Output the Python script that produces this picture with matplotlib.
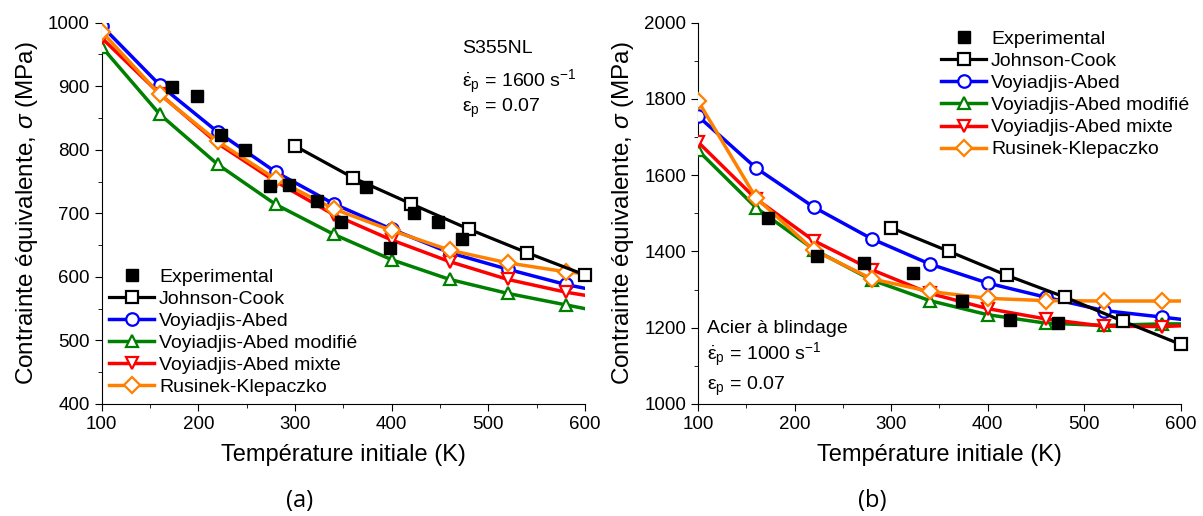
import matplotlib
matplotlib.use("Agg")
import matplotlib.pyplot as plt
import numpy as np

plt.rcParams['font.family'] = ['Liberation Sans', 'DejaVu Sans']
plt.rcParams['mathtext.fontset'] = 'custom'
plt.rcParams['mathtext.rm'] = 'Liberation Sans'
plt.rcParams['mathtext.it'] = 'Liberation Sans:italic'

# ---------------- (a) S355NL ----------------
a_exp_T = [173, 199, 223, 248, 274, 294, 323, 348, 373, 398, 423, 448, 473]
a_exp_S = [899, 885, 824, 800, 743, 745, 719, 686, 741, 645, 701, 686, 660]

a_jc_T = [300, 360, 420, 480, 540, 600]
a_jc_S = [806, 756, 715, 675, 638, 603]

a_mod_T = [100, 160, 220, 280, 340, 400, 460, 520, 580, 600]
a_va_S = [995, 902, 828, 765, 715, 675, 638, 612, 588, 582]
a_vam_S = [962, 856, 777, 714, 667, 627, 596, 574, 556, 550]
a_vax_S = [976, 888, 810, 750, 698, 658, 624, 596, 576, 571]
a_rk_S = [986, 887, 813, 754, 707, 673, 642, 622, 608, 605]

# ---------------- (b) Acier à blindage ----------------
b_exp_T = [172, 223, 272, 323, 373, 423, 473]
b_exp_S = [1489, 1389, 1371, 1343, 1271, 1221, 1212]

b_jc_T = [300, 360, 420, 480, 540, 600]
b_jc_S = [1462, 1400, 1337, 1280, 1217, 1156]

b_mod_T = [100, 160, 220, 280, 340, 400, 460, 520, 580, 600]
b_va_S = [1755, 1619, 1516, 1433, 1367, 1317, 1280, 1245, 1228, 1222]
b_vam_S = [1665, 1515, 1405, 1325, 1271, 1234, 1212, 1206, 1210, 1210]
b_vax_S = [1687, 1538, 1428, 1352, 1290, 1250, 1223, 1204, 1203, 1205]
b_rk_S = [1795, 1541, 1403, 1328, 1295, 1277, 1271, 1270, 1270, 1270]

labels = ["Experimental", "Johnson-Cook", "Voyiadjis-Abed",
          "Voyiadjis-Abed modifié", "Voyiadjis-Abed mixte", "Rusinek-Klepaczko"]
colors = ["black", "black", "#0000ff", "#008000", "#ff0000", "#ff8000"]
markers = ["s", "s", "o", "^", "v", "D"]

fig = plt.figure(figsize=(12.03, 5.16), dpi=100)
axA = fig.add_axes([0.0845, 0.2171, 0.4018, 0.739])
axB = fig.add_axes([0.5802, 0.2171, 0.4015, 0.739])

def draw(ax, expT, expS, jcT, jcS, modT, series):
    ax.plot(expT, expS, ls='none', marker='s', ms=8, color='black',
            label=labels[0], zorder=5, clip_on=False)
    ax.plot(jcT, jcS, color='black', lw=2.3, marker='s', ms=8.5, mfc='white',
            mew=1.6, label=labels[1], clip_on=False, zorder=4)
    for S, lab, c, m in zip(series, labels[2:], colors[2:], markers[2:]):
        ms = 9 if m != 'D' else 8
        ax.plot(modT, S, color=c, lw=2.5, marker=m, ms=ms, mfc='white', mew=1.6,
                markevery=list(range(len(modT) - 1)), label=lab, zorder=3)
    ax.spines['top'].set_visible(False)
    ax.spines['right'].set_visible(False)
    ax.set_xlim(100, 600)
    ax.set_xticks([100, 200, 300, 400, 500, 600])
    ax.set_xticks(np.arange(150, 600, 100), minor=True)
    ax.tick_params(axis='both', which='major', direction='out', length=5,
                   labelsize=13.5)
    ax.tick_params(axis='both', which='minor', direction='out', length=3)
    ax.set_xlabel("Température initiale (K)", fontsize=17, labelpad=8)
    ax.set_ylabel(r"Contrainte équivalente, $\sigma$ (MPa)", fontsize=17.5,
                  labelpad=6)

leg_kw = dict(frameon=False, fontsize=14, handlelength=2.3,
              labelspacing=0.23, borderaxespad=0.0, handletextpad=0.25)

draw(axA, a_exp_T, a_exp_S, a_jc_T, a_jc_S, a_mod_T,
     [a_va_S, a_vam_S, a_vax_S, a_rk_S])
axA.set_ylim(400, 1000)
axA.set_yticks([400, 500, 600, 700, 800, 900, 1000])
axA.set_yticks(np.arange(450, 1000, 100), minor=True)
axA.legend(loc='lower left', bbox_to_anchor=(0.0, 0.0), **leg_kw)
eps_dot = r"$\dot{\mathrm{\varepsilon}}_\mathrm{p}$"
eps = r"$\mathrm{\varepsilon}_\mathrm{p}$"
axA.text(0.745, 0.92, "S355NL", transform=axA.transAxes, fontsize=14,
         va='baseline')
axA.text(0.745, 0.831, eps_dot + r" = 1600 s$^{-1}$",
         transform=axA.transAxes, fontsize=14, va='baseline')
axA.text(0.745, 0.766, eps + " = 0.07",
         transform=axA.transAxes, fontsize=14, va='baseline')

draw(axB, b_exp_T, b_exp_S, b_jc_T, b_jc_S, b_mod_T,
     [b_va_S, b_vam_S, b_vax_S, b_rk_S])
axB.set_ylim(1000, 2000)
axB.set_yticks([1000, 1200, 1400, 1600, 1800, 2000])
axB.set_yticks(np.arange(1100, 2000, 200), minor=True)
axB.legend(loc='upper left', bbox_to_anchor=(0.488, 1.0), **leg_kw)
axB.text(0.019, 0.186, "Acier à blindage", transform=axB.transAxes,
         fontsize=14, va='baseline')
axB.text(0.019, 0.115, eps_dot + r" = 1000 s$^{-1}$",
         transform=axB.transAxes, fontsize=14, va='baseline')
axB.text(0.019, 0.037, eps + " = 0.07",
         transform=axB.transAxes, fontsize=14, va='baseline')

fig.text(300 / 1203, 1 - 501 / 516, "(a)", ha='center', va='center',
         fontsize=17, family='Open Sans')
fig.text(872 / 1203, 1 - 501 / 516, "(b)", ha='center', va='center',
         fontsize=17, family='Open Sans')

fig.savefig("out.png", dpi=100)
